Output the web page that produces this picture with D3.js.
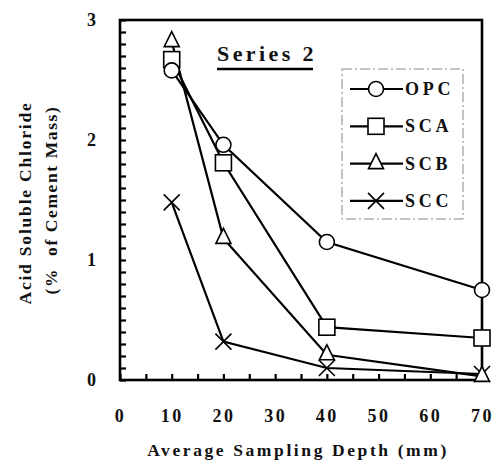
<!DOCTYPE html>
<html>
<head>
<meta charset="utf-8">
<script src="https://cdn.jsdelivr.net/npm/d3@7"></script>
<style>
  html, body { margin: 0; padding: 0; background: #fff; }
  svg { display: block; }
  text { font-family: "Liberation Serif", "DejaVu Serif", serif; font-weight: bold; fill: #111; }
</style>
</head>
<body>
<svg id="chart" width="495" height="465"></svg>
<script>
// Sampling depths (mm) and chloride content (% of cement mass) per mix
const depths = [10, 20, 40, 70];
const opc = [2.58, 1.96, 1.15, 0.75];
const sca = [2.67, 1.81, 0.44, 0.35];
const scb = [2.82, 1.18, 0.21, 0.03];
const scc = [1.48, 0.32, 0.10, 0.05];
const seriesNames = ["OPC", "SCA", "SCB", "SCC"];
const seriesMarkers = ["circle", "square", "triangle", "cross"];
const xTicks = [0, 10, 20, 30, 40, 50, 60, 70];
const yTicks = [0, 1, 2, 3];

const series = seriesNames.map((name, i) => ({
  name, marker: seriesMarkers[i], values: [opc, sca, scb, scc][i]
}));

const svg = d3.select("#chart");
const plotLeft = 120, plotRight = 482, plotTop = 20, plotBottom = 380;

const x = d3.scaleLinear().domain([0, 70]).range([plotLeft, plotRight]);
const y = d3.scaleLinear().domain([0, 3]).range([plotBottom, plotTop]);

// minor ticks: x every 5 (pointing up), y every 0.1 (pointing right)
const xMinor = d3.range(0, 70.01, 5);
const yMinor = d3.range(0, 3.001, 0.1);

svg.append("g").attr("transform", `translate(0,${plotBottom})`)
  .call(d3.axisTop(x).tickValues(xMinor).tickSize(6).tickFormat(""))
  .call(g => g.select(".domain").remove())
  .call(g => g.selectAll("line").attr("stroke", "#000").attr("stroke-width", 2.2));

svg.append("g").attr("transform", `translate(${plotLeft},0)`)
  .call(d3.axisRight(y).tickValues(yMinor).tickSize(6).tickFormat(""))
  .call(g => g.select(".domain").remove())
  .call(g => g.selectAll("line").attr("stroke", "#000").attr("stroke-width", 2.2));

// frame
svg.append("rect")
  .attr("x", plotLeft).attr("y", plotTop)
  .attr("width", plotRight - plotLeft).attr("height", plotBottom - plotTop)
  .attr("fill", "none").attr("stroke", "#000").attr("stroke-width", 2.6);

// x tick labels
svg.append("g").attr("transform", `translate(0,${plotBottom + 42})`)
  .call(d3.axisBottom(x).tickValues(xTicks).tickSize(0).tickPadding(0).tickFormat(d3.format("d")))
  .call(g => g.select(".domain").remove())
  .call(g => g.selectAll("text")
    .attr("font-size", 18).attr("letter-spacing", "2.5px").attr("dy", null)
    .attr("font-family", "Liberation Serif, serif").attr("font-weight", "bold")
    .attr("fill", "#111"));

// y tick labels
svg.append("g").attr("transform", `translate(${plotLeft - 24},0)`)
  .call(d3.axisLeft(y).tickValues(yTicks).tickSize(0).tickPadding(0).tickFormat(d3.format("d")))
  .call(g => g.select(".domain").remove())
  .call(g => g.selectAll("text")
    .attr("font-size", 18)
    .attr("font-family", "Liberation Serif, serif").attr("font-weight", "bold")
    .attr("fill", "#111"));

// axis titles
svg.append("text")
  .attr("x", 298).attr("y", 456)
  .attr("text-anchor", "middle")
  .attr("font-size", 17.5).attr("letter-spacing", "2.6px")
  .text("Average Sampling Depth (mm)");

svg.append("text")
  .attr("transform", "translate(31,203) rotate(-90)")
  .attr("text-anchor", "middle")
  .attr("font-size", 17.5).attr("letter-spacing", "1.8px")
  .text("Acid Soluble Chloride");

svg.append("text")
  .attr("transform", "translate(57,200) rotate(-90)")
  .attr("text-anchor", "middle")
  .attr("font-size", 17.5).attr("letter-spacing", "1.6px")
  .style("white-space", "pre")
  .text("(%  of Cement Mass)");

// panel caption
svg.append("text")
  .attr("x", 217).attr("y", 61)
  .attr("font-size", 22).attr("letter-spacing", "3.4px")
  .text("Series 2");
svg.append("line")
  .attr("x1", 217).attr("x2", 313).attr("y1", 69).attr("y2", 69)
  .attr("stroke", "#000").attr("stroke-width", 2.4);

// marker drawing
function drawMarker(g, type, cx, cy) {
  if (type === "circle") {
    g.append("circle").attr("cx", cx).attr("cy", cy).attr("r", 7.5)
      .attr("fill", "#fff").attr("stroke", "#000").attr("stroke-width", 1.6);
  } else if (type === "square") {
    g.append("rect").attr("x", cx - 8).attr("y", cy - 8).attr("width", 16).attr("height", 16)
      .attr("fill", "#fff").attr("stroke", "#000").attr("stroke-width", 1.6);
  } else if (type === "triangle") {
    g.append("path")
      .attr("d", `M${cx},${cy - 10}L${cx + 7.5},${cy + 5}L${cx - 7.5},${cy + 5}Z`)
      .attr("fill", "#fff").attr("stroke", "#000").attr("stroke-width", 1.6);
  } else {
    const s = 8;
    g.append("path")
      .attr("d", `M${cx - s},${cy - s}L${cx + s},${cy + s}M${cx - s},${cy + s}L${cx + s},${cy - s}`)
      .attr("fill", "none").attr("stroke", "#000").attr("stroke-width", 1.6);
  }
}

const line = d3.line().x(d => x(d[0])).y(d => y(d[1]));

// lines first, then markers on top
const plot = svg.append("g");
series.forEach(s => {
  plot.append("path")
    .datum(depths.map((d, i) => [d, s.values[i]]))
    .attr("d", line)
    .attr("fill", "none").attr("stroke", "#000").attr("stroke-width", 2.2);
});
[3, 2, 1, 0].forEach(k => {
  const s = series[k];
  const g = plot.append("g");
  depths.forEach((d, i) => drawMarker(g, s.marker, x(d), y(s.values[i])));
});

// legend
const lg = svg.append("g");
lg.append("rect")
  .attr("x", 342).attr("y", 69).attr("width", 121).attr("height", 150)
  .attr("fill", "none").attr("stroke", "#888").attr("stroke-width", 1)
  .attr("stroke-dasharray", "10,3,2,3");
series.forEach((s, i) => {
  const ly = 89 + i * 37.3;
  lg.append("line").attr("x1", 350).attr("x2", 403).attr("y1", ly).attr("y2", ly)
    .attr("stroke", "#000").attr("stroke-width", 2.2);
  drawMarker(lg, s.marker, 376, ly);
  lg.append("text").attr("x", 405).attr("y", ly + 6)
    .attr("font-size", 18).attr("letter-spacing", "3.8px")
    .text(s.name);
});
</script>
</body>
</html>
